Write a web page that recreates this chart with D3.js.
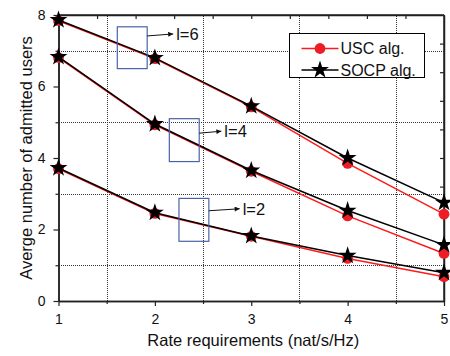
<!DOCTYPE html>
<html>
<head>
<meta charset="utf-8">
<script src="https://cdn.jsdelivr.net/npm/d3@7"></script>
<style>
  body { margin: 0; background: #fff; }
  svg { display: block; font-family: "Liberation Sans", Arial, sans-serif; }
</style>
</head>
<body>
<div id="chart-area"></div>
<script>
const rates = [1, 2, 3, 4, 5];
const groups = ["l=6", "l=4", "l=2"];
const uscValues = [
    [7.84, 6.78, 5.43, 3.85, 2.43],
    [6.81, 4.93, 3.63, 2.38, 1.33],
    [3.70, 2.45, 1.81, 1.19, 0.68]
];
const socpValues = [
    [7.86, 6.80, 5.45, 4.00, 2.75],
    [6.83, 4.95, 3.65, 2.53, 1.57],
    [3.72, 2.47, 1.82, 1.27, 0.79]
];
const xTicks = [1, 2, 3, 4, 5];
const yTicks = [0, 2, 4, 6, 8];
const gridX = [1.5, 2.5, 3.5, 4.5];
const gridY = [1, 3, 5, 7];
const topTicks = [1.4, 1.8, 2.2, 2.6, 3.0, 3.4, 3.8, 4.2, 4.6];
const rightTicks = [0.8, 1.6, 2.4, 3.2, 4.0, 4.8, 5.6, 6.4, 7.2];
// annotation boxes in data units, with arrow tip / label anchor
const boxes = [
    { label: groups[0], x0: 1.61, x1: 1.92, y0: 6.5, y1: 7.67, ax: 2.19, ay: 7.47 },
    { label: groups[1], x0: 2.15, x1: 2.46, y0: 3.9, y1: 5.1, ax: 2.69, ay: 4.75 },
    { label: groups[2], x0: 2.25, x1: 2.56, y0: 1.67, y1: 2.87, ax: 2.88, ay: 2.58 }
];

const W = 450, H = 356;
const margins = { top: 15, right: 6, bottom: 55, left: 58.5 };

const svg = d3.select("#chart-area").append("svg")
    .attr("width", W).attr("height", H);

const x = d3.scaleLinear().domain([1, 5]).range([margins.left, W - margins.right]);
const y = d3.scaleLinear().domain([0, 8]).range([H - margins.bottom, margins.top]);
const px = v => Math.round(v) + 0.5;

// grid
svg.append("g").selectAll("line").data(gridX).enter().append("line")
    .attr("x1", d => px(x(d))).attr("x2", d => px(x(d)))
    .attr("y1", y(0)).attr("y2", y(8))
    .attr("stroke", "#333").attr("stroke-width", 1).attr("stroke-dasharray", "1,1")
    .attr("shape-rendering", "crispEdges");
svg.append("g").selectAll("line").data(gridY).enter().append("line")
    .attr("x1", x(1)).attr("x2", x(5))
    .attr("y1", d => px(y(d))).attr("y2", d => px(y(d)))
    .attr("stroke", "#333").attr("stroke-width", 1).attr("stroke-dasharray", "1,1")
    .attr("shape-rendering", "crispEdges");

// axes
const axisColor = "#222";
const bottom = svg.append("g").attr("transform", `translate(0,${y(0)})`)
    .call(d3.axisBottom(x).tickValues(xTicks).tickFormat(d3.format("d")).tickSize(5).tickSizeOuter(0));
svg.append("g").attr("transform", `translate(0,${y(0)})`)
    .call(d3.axisBottom(x).tickValues(gridX).tickFormat("").tickSize(3).tickSizeOuter(0));
const left = svg.append("g").attr("transform", `translate(${x(1)},0)`)
    .call(d3.axisLeft(y).tickValues(yTicks).tickFormat(d3.format("d")).tickSize(5).tickSizeOuter(0));
svg.append("g").attr("transform", `translate(${x(1)},0)`)
    .call(d3.axisLeft(y).tickValues(gridY).tickFormat("").tickSize(3).tickSizeOuter(0));
svg.append("g").attr("transform", `translate(0,${y(8)})`)
    .call(d3.axisBottom(x).tickValues(topTicks).tickFormat("").tickSize(4).tickSizeOuter(0));
svg.append("g").attr("transform", `translate(${x(5)},0)`)
    .call(d3.axisLeft(y).tickValues(rightTicks).tickFormat("").tickSize(4).tickSizeOuter(0));

svg.selectAll(".domain").attr("stroke", axisColor).attr("stroke-width", 1.5);
svg.selectAll(".tick line").attr("stroke", axisColor).attr("stroke-width", 1.2);
bottom.selectAll("text").attr("font-size", 14).attr("fill", "#111").attr("dy", "1.1em");
left.selectAll("text").attr("font-size", 14).attr("fill", "#111").attr("dx", "-0.35em");

// top and right frame
svg.append("line").attr("x1", x(1)).attr("x2", x(5)).attr("y1", y(8)).attr("y2", y(8))
    .attr("stroke", axisColor).attr("stroke-width", 1.5);
svg.append("line").attr("x1", x(5)).attr("x2", x(5)).attr("y1", y(0)).attr("y2", y(8))
    .attr("stroke", axisColor).attr("stroke-width", 1.5);

// labels
svg.append("text")
    .attr("x", (x(1) + x(5)) / 2 + 2).attr("y", 346)
    .attr("text-anchor", "middle").attr("font-size", 16.5).attr("fill", "#111")
    .text("Rate requirements (nat/s/Hz)");
svg.append("text")
    .attr("transform", `translate(32,${(y(0) + y(8)) / 2}) rotate(-90)`)
    .attr("text-anchor", "middle").attr("font-size", 16.5).attr("fill", "#111")
    .text("Averge number of admitted users");

// series
const line = d3.line().x((d, i) => x(rates[i])).y(d => y(d));
const star = d3.symbol().type(d3.symbolStar).size(100);

uscValues.forEach(vals => {
    svg.append("path").attr("d", line(vals))
        .attr("fill", "none").attr("stroke", "#ff1a1a").attr("stroke-width", 1.5);
});
uscValues.forEach(vals => {
    svg.append("g").selectAll("circle").data(vals).enter().append("circle")
        .attr("cx", (d, i) => x(rates[i])).attr("cy", d => y(d))
        .attr("r", 5.4).attr("fill", "#ee1c25");
});
socpValues.forEach(vals => {
    svg.append("path").attr("d", line(vals))
        .attr("fill", "none").attr("stroke", "#000").attr("stroke-width", 1.5);
});
socpValues.forEach(vals => {
    svg.append("g").selectAll("path").data(vals).enter().append("path")
        .attr("d", star)
        .attr("transform", (d, i) => `translate(${x(rates[i])},${y(d)})`)
        .attr("fill", "#000");
});

// annotation boxes
svg.append("defs").append("marker")
    .attr("id", "arr").attr("viewBox", "0 0 10 10")
    .attr("refX", 10).attr("refY", 5)
    .attr("markerWidth", 8).attr("markerHeight", 5)
    .attr("orient", "auto").attr("markerUnits", "userSpaceOnUse")
    .append("path").attr("d", "M0,0L10,5L0,10z").attr("fill", "#111");

boxes.forEach(b => {
    svg.append("rect")
        .attr("x", x(b.x0)).attr("y", y(b.y1))
        .attr("width", x(b.x1) - x(b.x0)).attr("height", y(b.y0) - y(b.y1))
        .attr("fill", "none").attr("stroke", "#4a63a8").attr("stroke-width", 1.2);
    svg.append("line")
        .attr("x1", x(b.x1)).attr("y1", y(b.ay) + 2)
        .attr("x2", x(b.ax)).attr("y2", y(b.ay))
        .attr("stroke", "#111").attr("stroke-width", 1)
        .attr("marker-end", "url(#arr)");
    svg.append("text")
        .attr("x", x(b.ax) + 3).attr("y", y(b.ay) + 6)
        .attr("font-size", 16.5).attr("fill", "#111")
        .text(b.label);
});

// legend
const legend = svg.append("g").attr("transform", "translate(289.5,33.5)");
legend.append("rect").attr("width", 135).attr("height", 44)
    .attr("fill", "#fff").attr("stroke", "#000").attr("stroke-width", 1);
const items = [
    { name: "USC alg.", color: "#ff1a1a", mark: "circle" },
    { name: "SOCP alg.", color: "#000", mark: "star" }
];
items.forEach((it, i) => {
    const row = legend.append("g").attr("transform", `translate(0,${15 + i * 21.5})`);
    row.append("line").attr("x1", 12).attr("x2", 49)
        .attr("stroke", it.color).attr("stroke-width", 1.5);
    if (it.mark === "circle") {
        row.append("circle").attr("cx", 30.5).attr("r", 5.4).attr("fill", "#ee1c25");
    } else {
        row.append("path").attr("d", star).attr("transform", "translate(30.5,0)").attr("fill", "#000");
    }
    row.append("text").attr("x", 51).attr("y", 5.5)
        .attr("font-size", 16).attr("fill", "#111").text(it.name);
});
</script>
</body>
</html>
